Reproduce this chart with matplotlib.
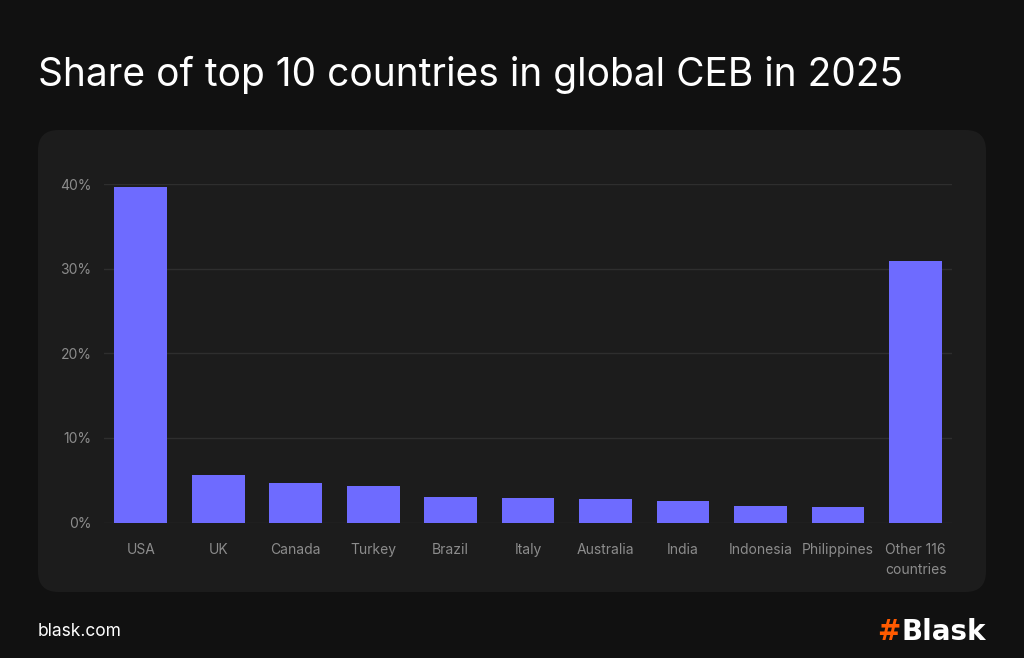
import matplotlib
matplotlib.use("Agg")
import matplotlib.pyplot as plt
from matplotlib.patches import FancyBboxPatch
from matplotlib.ticker import FuncFormatter

categories = ["USA", "UK", "Canada", "Turkey", "Brazil", "Italy", "Australia",
              "India", "Indonesia", "Philippines", "Other 116\ncountries"]
shares = [39.7, 5.6, 4.7, 4.3, 3.0, 2.9, 2.8, 2.5, 1.9, 1.8, 30.9]
yticks = [0, 10, 20, 30, 40]

title = "Share of top 10 countries in global CEB in 2025"
BG = "#111111"
PANEL = "#1c1c1c"
BAR = "#6e6bff"
GRID = "#2e2e2e"
TICK = "#8c8c8c"

plt.rcParams['font.family'] = ['Inter', 'DejaVu Sans']

W, H = 1024, 658
fig = plt.figure(figsize=(W / 100, H / 100), dpi=100, facecolor=BG)

# panel
panel = FancyBboxPatch((38 / W, (H - 592) / H), (986 - 38) / W, (592 - 130) / H,
                       boxstyle="round,pad=0,rounding_size=0.02",
                       transform=fig.transFigure, facecolor=PANEL, edgecolor="none",
                       mutation_aspect=W / H, zorder=-10)
fig.patches.append(panel)

fig.text(38 / W, 1 - 75 / H, title, color="white", fontsize=28,
         va="center", ha="left")

ax_l, ax_r, ax_t, ax_b = 104, 952, 184, 522.5
ax = fig.add_axes([ax_l / W, 1 - ax_b / H, (ax_r - ax_l) / W, (ax_b - ax_t) / H])
ax.set_facecolor("none")
ax.set_zorder(5)

x = list(range(len(categories)))
ax.bar(x, shares, width=0.68, color=BAR, zorder=3)
ax.set_xlim(-0.474, len(categories) - 1 + 0.47)
ax.set_ylim(0, 40)
ax.set_yticks(yticks)
ax.yaxis.set_major_formatter(FuncFormatter(lambda v, p: f"{int(v)}%"))
ax.grid(axis="y", color=GRID, linewidth=1, zorder=0)
ax.set_axisbelow(True)
for s in ax.spines.values():
    s.set_visible(False)
ax.set_xticks(x)
ax.set_xticklabels(categories, linespacing=1.5)
ax.tick_params(axis="both", length=0, colors=TICK, labelsize=10)
ax.tick_params(axis="y", pad=9)
ax.tick_params(axis="x", pad=15)
for lbl in ax.get_xticklabels():
    lbl.set_va("top")

fig.text(38 / W, 1 - 632 / H, "blask.com", color="white", fontsize=12.5,
         va="center", ha="left")
fig.text(900 / W, 1 - 632 / H, "#", color="#ff5a00", fontsize=20, fontweight="bold",
         va="center", ha="right", family=["DejaVu Sans"])
fig.text(986 / W, 1 - 632 / H, "Blask", color="white", fontsize=20, fontweight="bold",
         va="center", ha="right", family=["DejaVu Sans"])

fig.savefig("out.png", dpi=100, facecolor=BG)
